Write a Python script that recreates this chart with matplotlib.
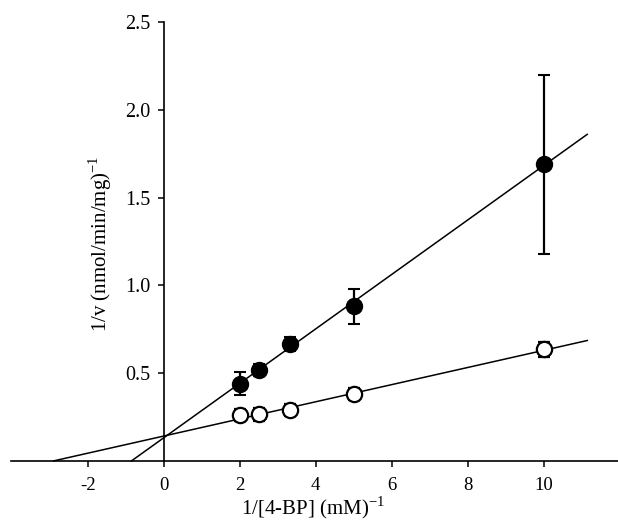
import matplotlib
matplotlib.use("Agg")
import matplotlib.pyplot as plt
import numpy as np

plt.rcParams['font.family'] = ['Liberation Serif', 'DejaVu Serif']
plt.rcParams['axes.unicode_minus'] = False
plt.rcParams['mathtext.fontset'] = 'custom'
plt.rcParams['mathtext.rm'] = 'Liberation Serif'

# data
inv_s = [2.0, 2.5, 3.33, 5.0, 10.0]
filled_y = [0.44, 0.52, 0.665, 0.88, 1.69]
filled_err = [0.065, 0.035, 0.04, 0.10, 0.51]
open_y = [0.26, 0.265, 0.29, 0.38, 0.635]
open_err = [0.035, 0.035, 0.035, 0.035, 0.04]

# fitted lines (slope, intercept, x-range)
filled_fit = (0.155, 0.132)
filled_range = [-0.85, 11.15]
open_fit = (0.0488, 0.142)
open_range = [-2.9, 11.15]

xticks = [-2, 0, 2, 4, 6, 8, 10]
yticks = [0.5, 1.0, 1.5, 2.0, 2.5]

fig = plt.figure(figsize=(6.18, 5.23), dpi=100)
ax = fig.add_axes([11/618, (523-461)/523, (618-11)/618, 439/523])
ax.set_xlim(-4.02, 11.96)
ax.set_ylim(0, 2.5)

for (m, b), rng in [(filled_fit, filled_range), (open_fit, open_range)]:
    xs = np.array(rng)
    ax.plot(xs, m*xs + b, color='black', lw=1.1, zorder=2, clip_on=False)

ax.errorbar(inv_s, filled_y, yerr=filled_err, fmt='o', ms=11, mfc='black',
            mec='black', mew=1.5, ecolor='black', elinewidth=1.6, capsize=4.5,
            capthick=1.6, zorder=3, clip_on=False)
ax.errorbar(inv_s, open_y, yerr=open_err, fmt='o', ms=11, mfc='white',
            mec='black', mew=1.6, ecolor='black', elinewidth=1.6, capsize=4.5,
            capthick=1.6, zorder=3, clip_on=False)

ax.spines['left'].set_position(('data', 0))
ax.spines['bottom'].set_position(('data', 0))
ax.spines['top'].set_visible(False)
ax.spines['right'].set_visible(False)
ax.spines['left'].set_linewidth(1.2)
ax.spines['bottom'].set_linewidth(1.2)
ax.set_xticks(xticks)
ax.set_xticklabels([str(t) for t in xticks])
ax.set_yticks(yticks)
ax.set_yticklabels([f"{t:.1f}" for t in yticks])
ax.tick_params(axis='both', direction='out', length=4.5, width=1.1)
ax.tick_params(axis='x', labelsize=13.5, pad=7)
ax.tick_params(axis='y', labelsize=14.5, pad=5)
ax.patch.set_visible(False)

fig.text(313/618, 1 - 508/523, r"1/[4-BP] (mM)$^{-1}$", fontsize=15,
         ha='center', va='center')
fig.text(100/618, 1 - 244/523, r"1/v (nmol/min/mg)$^{-1}$", fontsize=15,
         rotation=90, ha='center', va='center')

fig.savefig("out.png", dpi=100)
